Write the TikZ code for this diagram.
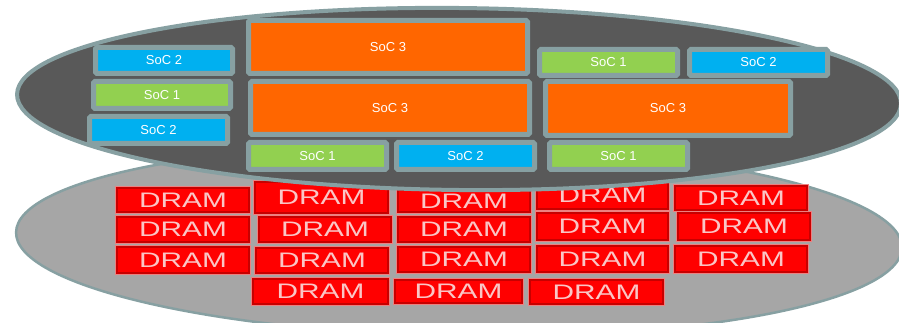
\documentclass[tikz,border=0pt]{standalone}
\usepackage{fontspec}
\setmainfont{Liberation Sans}
\usepackage{graphicx}
\definecolor{rim}{HTML}{87A0A2}
\definecolor{boardtop}{HTML}{595959}
\definecolor{boardlow}{HTML}{A6A6A6}
\definecolor{socblue}{HTML}{00B0F0}
\definecolor{socgreen}{HTML}{92D050}
\definecolor{socorange}{HTML}{FF6600}
\definecolor{dramred}{HTML}{FF0000}
\definecolor{dramedge}{HTML}{C80000}
\definecolor{dramhalo}{HTML}{EE8080}
\definecolor{dramtext}{HTML}{FAC6C6}
\tikzset{
  socbox/.style={draw=rim, line width=5pt, rounded corners=1.5pt, inner sep=0pt,
    text=white, font=\fontsize{13}{13}\selectfont},
  drambox/.style={fill=dramred, draw=dramedge, line width=1.2pt, inner sep=0pt,
    preaction={draw=dramhalo, line width=4pt},
    text=dramtext, font=\fontsize{21}{21}\selectfont},
}
\newcommand{\dramlabel}{\scalebox{1.42}[1]{DRAM}}
\begin{document}
\begin{tikzpicture}[x=1pt,y=-1pt]
\useasboundingbox (0,0) rectangle (899,323);
\fill[white] (0,0) rectangle (899,323);
% lower board
\draw[fill=boardlow, draw=rim, line width=2.5pt, rotate around={-1:(459,240)}]
  (459,240) ellipse [x radius=443, y radius=96];
% DRAM chips
\node[drambox, minimum width=132, minimum height=24] (d11) at (183,200) {\dramlabel};
\node[drambox, minimum width=133, minimum height=31] (d12) at (321.5,197.5) {\dramlabel};
\node[drambox, minimum width=132, minimum height=22] (d13) at (464,201) {\dramlabel};
\node[drambox, minimum width=131, minimum height=27] (d14) at (602.5,195.5) {\dramlabel};
\node[drambox, minimum width=132, minimum height=24] (d15) at (741,198) {\dramlabel};
\node[drambox, minimum width=132, minimum height=25] (d21) at (183,229.5) {\dramlabel};
\node[drambox, minimum width=132, minimum height=25] (d22) at (325,229.5) {\dramlabel};
\node[drambox, minimum width=132, minimum height=25] (d23) at (464,229.5) {\dramlabel};
\node[drambox, minimum width=131, minimum height=27] (d24) at (602.5,226.5) {\dramlabel};
\node[drambox, minimum width=132, minimum height=27] (d25) at (744,226.5) {\dramlabel};
\node[drambox, minimum width=132, minimum height=26] (d31) at (183,260) {\dramlabel};
\node[drambox, minimum width=132, minimum height=25] (d32) at (322,260.5) {\dramlabel};
\node[drambox, minimum width=132, minimum height=25] (d33) at (464,259.5) {\dramlabel};
\node[drambox, minimum width=131, minimum height=26] (d34) at (602.5,259) {\dramlabel};
\node[drambox, minimum width=132, minimum height=26] (d35) at (741,259) {\dramlabel};
\node[drambox, minimum width=135, minimum height=25] (d42) at (320.5,291.5) {\dramlabel};
\node[drambox, minimum width=127, minimum height=23] (d43) at (458.5,291.5) {\dramlabel};
\node[drambox, minimum width=133, minimum height=24] (d44) at (596.5,292) {\dramlabel};
% upper board
\draw[fill=boardtop, draw=rim, line width=4pt, rotate around={-0.6:(459,99)}]
  (459,99) ellipse [x radius=442, y radius=91];
% SoCs
\node[socbox, fill=socblue,   minimum width=137, minimum height=26] (s1)  at (164,60.5)   {SoC 2};
\node[socbox, fill=socgreen,  minimum width=137, minimum height=27] (s2)  at (162,95)     {SoC 1};
\node[socbox, fill=socblue,   minimum width=138, minimum height=27] (s3)  at (158.5,130)  {SoC 2};
\node[socbox, fill=socorange, minimum width=279, minimum height=53] (s4)  at (388,47)     {SoC 3};
\node[socbox, fill=socorange, minimum width=279, minimum height=53] (s5)  at (390,108)    {SoC 3};
\node[socbox, fill=socgreen,  minimum width=138, minimum height=27] (s6)  at (317.5,156)  {SoC 1};
\node[socbox, fill=socblue,   minimum width=138, minimum height=27] (s7)  at (465.5,156)  {SoC 2};
\node[socbox, fill=socgreen,  minimum width=138, minimum height=26] (s8)  at (608.5,62.5) {SoC 1};
\node[socbox, fill=socblue,   minimum width=138, minimum height=26] (s9)  at (758.5,62.5) {SoC 2};
\node[socbox, fill=socorange, minimum width=245, minimum height=54] (s10) at (668,108.5)  {SoC 3};
\node[socbox, fill=socgreen,  minimum width=138, minimum height=27] (s11) at (618.5,156)  {SoC 1};
\end{tikzpicture}
\end{document}
